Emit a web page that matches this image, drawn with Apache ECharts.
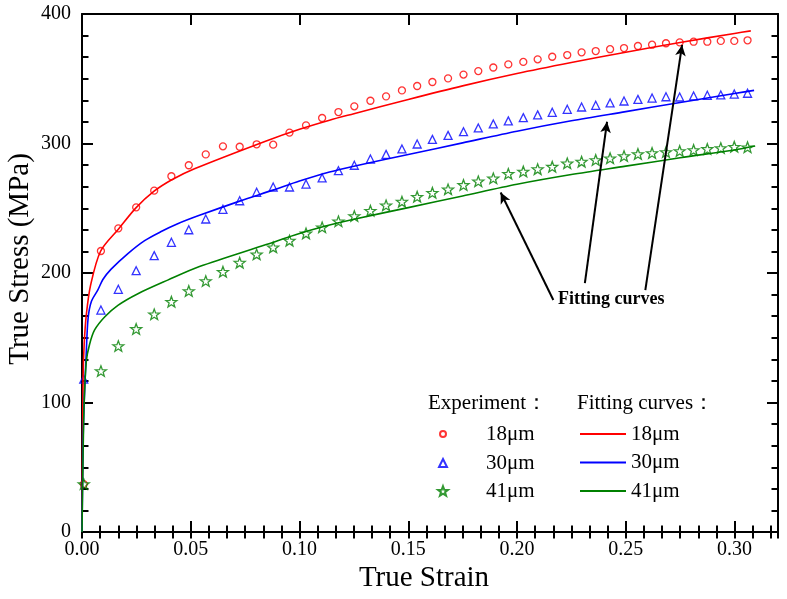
<!DOCTYPE html>
<html>
<head>
<meta charset="utf-8">
<script src="https://cdn.jsdelivr.net/npm/echarts@6/dist/echarts.min.js"></script>
<style>html,body{margin:0;padding:0;background:#fff;}#chart{width:787px;height:599px;}</style>
</head>
<body>
<div id="chart"></div>
<script>
// ---- data ----
const strainExp = [0.0008, 0.0087, 0.0167, 0.0249, 0.0332, 0.0411, 0.0491, 0.0569, 0.0648, 0.0725, 0.0803, 0.0879, 0.0954, 0.1030, 0.1104, 0.1179, 0.1252, 0.1326, 0.1398, 0.1471, 0.1541, 0.1611, 0.1683, 0.1754, 0.1822, 0.1891, 0.1960, 0.2029, 0.2095, 0.2162, 0.2231, 0.2297, 0.2362, 0.2428, 0.2492, 0.2556, 0.2621, 0.2685, 0.2748, 0.2812, 0.2875, 0.2937, 0.2999, 0.3060];
const stressExp18 = [37, 217, 234.5, 250.7, 263.6, 274.7, 283.2, 291.6, 297.8, 297.5, 299.4, 299.1, 308.4, 314, 319.7, 324.3, 328.7, 333, 336.4, 341, 344.4, 347.5, 350.3, 353.2, 355.9, 358.7, 361.1, 363, 365, 367, 368.3, 370.4, 371.4, 372.8, 373.7, 375.3, 376.3, 377.4, 378.1, 378.6, 378.6, 379.2, 379.2, 379.7];
const stressExp30 = [118, 171.4, 187.4, 201.8, 213.4, 223.7, 233.4, 241.7, 249.2, 255.8, 262.3, 266.4, 266.4, 268.7, 273.4, 279, 283.2, 288, 291.6, 295.8, 299.6, 303.2, 306.3, 309.1, 312, 315.1, 317.5, 320, 322.1, 324.1, 326.4, 328.2, 329.5, 331.3, 332.8, 334.1, 335.1, 336.1, 335.9, 336.7, 337.2, 337.5, 338.2, 338.8];
const stressExp41 = [37, 124.3, 143.6, 156.8, 168.1, 177.8, 186.1, 193.8, 201, 208, 214.4, 219.8, 225, 230.6, 235.3, 239.9, 244, 248.1, 252.3, 255.1, 258.9, 262, 264.6, 268, 270.8, 273.1, 276.6, 278.4, 280.2, 282.1, 284.7, 286, 287.3, 288.6, 290.3, 291.9, 292.7, 293.4, 294.2, 295, 295.8, 296.5, 297.5, 297.1];

const fitStrain18 = [0, 0.0005, 0.001, 0.002, 0.004, 0.0086, 0.0168, 0.0249, 0.033, 0.0413, 0.0517, 0.0847, 0.1, 0.1138, 0.125, 0.15, 0.175, 0.2, 0.225, 0.25, 0.275, 0.3, 0.3075];
const fitStress18 = [0, 120, 145, 168, 191, 217, 234, 250.5, 263, 272, 280.5, 302, 311, 318, 323, 334, 344.5, 354, 362.5, 370.5, 378, 385, 387];
const fitStrain30 = [0, 0.0005, 0.001, 0.002, 0.0028, 0.0043, 0.0073, 0.0096, 0.0134, 0.0211, 0.0288, 0.0364, 0.044, 0.054, 0.0725, 0.0878, 0.1, 0.1138, 0.125, 0.15, 0.175, 0.2, 0.225, 0.25, 0.275, 0.3, 0.309];
const fitStress30 = [0, 70, 100, 140, 165, 178, 187, 195, 203, 215, 225, 232, 238, 244.5, 255.5, 264, 271, 278, 282.5, 291.5, 300.5, 309.5, 317.5, 324.6, 331.7, 338.6, 341];
const fitStrain41 = [0, 0.0005, 0.001, 0.002, 0.0035, 0.0058, 0.0104, 0.0165, 0.0257, 0.0394, 0.054, 0.0847, 0.1, 0.1138, 0.125, 0.15, 0.175, 0.2, 0.225, 0.25, 0.275, 0.3, 0.3095];
const fitStress41 = [0, 60, 100, 132, 145, 156, 166, 175, 184, 194.5, 205, 222, 230.5, 237, 241.5, 250.5, 259.5, 268.5, 276, 282.5, 289, 295, 298];

const grainSizes = ['18μm', '30μm', '41μm'];
const xTickValues = [0, 0.05, 0.10, 0.15, 0.20, 0.25, 0.30];
const yTickValues = [0, 100, 200, 300, 400];
// annotation arrows: [tail strain, tail stress, head strain, head stress]
const arrows = [
  [0.2167, 179.2, 0.1925, 262.2],
  [0.2312, 192.1, 0.2414, 316.8],
  [0.2590, 186.7, 0.2759, 376.1]
];
const annotationText = 'Fitting curves';

// ---- chart ----
const FONT = 'Liberation Serif, Times New Roman, serif';
const starPath = 'path://M50,0 L62,33 L97.5,34.5 L69.5,56.5 L79.4,90.5 L50,71 L20.6,90.5 L30.5,56.5 L2.5,34.5 L38,33 Z';
const colors = ['#ff0000', '#0000ff', '#008000'];
const expSymbols = ['circle', 'triangle', starPath];
const expSizes = [7, 8, 11];
const legendSizes = [6, 8, 10];
const legendRowTops = [418, 447, 475];
const expData = [stressExp18, stressExp30, stressExp41];
const fitX = [fitStrain18, fitStrain30, fitStrain41];
const fitY = [fitStress18, fitStress30, fitStress41];

const zip = (xs, ys) => xs.map((x, i) => [x, ys[i]]);

const series = [];
grainSizes.forEach((g, i) => {
  series.push({
    name: 'Experiment ' + g,
    type: 'scatter',
    xAxisIndex: 0, yAxisIndex: 0,
    symbol: expSymbols[i],
    symbolSize: expSizes[i],
    symbolKeepAspect: true,
    itemStyle: { color: 'rgba(255,255,255,0)', borderColor: colors[i], borderWidth: 1.3 },
    data: zip(strainExp, expData[i]),
    z: 3
  });
});
grainSizes.forEach((g, i) => {
  series.push({
    name: 'Fitting ' + g,
    type: 'line',
    xAxisIndex: 0, yAxisIndex: 0,
    symbol: 'none', showSymbol: false,
    smooth: 0.3,
    lineStyle: { color: colors[i], width: 1.6 },
    itemStyle: { color: colors[i] },
    data: zip(fitX[i], fitY[i]),
    z: 4
  });
});
series.push({
  name: 'annotation',
  type: 'line',
  xAxisIndex: 0, yAxisIndex: 0,
  data: [],
  silent: true,
  markLine: {
    silent: true,
    symbol: ['none', 'arrow'],
    symbolSize: [8, 11],
    label: { show: false },
    emphasis: { disabled: true },
    lineStyle: { color: '#000', width: 2, type: 'solid' },
    data: arrows.map(a => [{ coord: [a[0], a[1]] }, { coord: [a[2], a[3]] }])
  },
  z: 5
});

const majorTick = { show: true, inside: true, length: 11, lineStyle: { color: '#000', width: 2 } };
const minorTickStyle = { show: true, inside: true, length: 6.5, lineStyle: { color: '#000', width: 2 } };
const axisLine = { show: true, onZero: false, lineStyle: { color: '#000', width: 2 } };

const xBase = { type: 'value', min: 0, max: 0.32, splitLine: { show: false } };
const yBase = { type: 'value', min: 0, max: 400, interval: 100, splitLine: { show: false } };

const legendText = { fontFamily: FONT, fontSize: 21, lineHeight: 22, color: '#000' };

const legends = grainSizes.map((g, i) => {
  const w = legendSizes[i];
  const left = 437 - w / 2;
  const pad = 480 - (left + w + 5);
  return {
    data: [{ name: 'Experiment ' + g, icon: expSymbols[i] }],
    orient: 'vertical', left: left, top: legendRowTops[i],
    itemWidth: w, itemHeight: w, itemGap: 0,
    selectedMode: false,
    formatter: n => '{t|' + n.replace('Experiment ', '') + '}',
    textStyle: Object.assign({}, legendText, { rich: { t: Object.assign({}, legendText, { padding: [0, 0, 0, pad] }) } })
  };
});
legends.push({
  data: grainSizes.map(g => ({ name: 'Fitting ' + g, icon: 'rect' })),
  orient: 'vertical', left: 575, top: legendRowTops[0],
  itemWidth: 46, itemHeight: 2, itemGap: 6.5,
  selectedMode: false,
  formatter: n => n.replace('Fitting ', ''),
  textStyle: legendText
});

const option = {
  animation: false,
  backgroundColor: '#fff',
  textStyle: { fontFamily: FONT },
  grid: { left: 82, right: 9, top: 14, bottom: 67, containLabel: false, outerBoundsMode: 'none' },
  xAxis: [
    Object.assign({}, xBase, {
      position: 'bottom', interval: 0.05,
      name: 'True Strain', nameLocation: 'middle', nameGap: 32,
      nameMoveOverlap: false,
      nameTextStyle: { fontFamily: FONT, fontSize: 29, color: '#000', padding: [0, 12, 0, 0] },
      axisLine: axisLine, axisTick: majorTick,
      axisLabel: {
        show: true, margin: 8, color: '#000', fontFamily: FONT, fontSize: 20,
        formatter: v => (xTickValues.some(t => Math.abs(t - v) < 1e-6) ? v.toFixed(2) : '')
      }
    }),
    Object.assign({}, xBase, {
      position: 'top', interval: 0.05,
      axisLine: axisLine, axisTick: majorTick, axisLabel: { show: false }
    }),
    Object.assign({}, xBase, {
      position: 'bottom', interval: 0.05 / 6,
      axisLine: { show: false }, axisTick: minorTickStyle, axisLabel: { show: false }
    }),
    Object.assign({}, xBase, {
      position: 'top', interval: 0.05 / 6,
      axisLine: { show: false }, axisTick: minorTickStyle, axisLabel: { show: false }
    })
  ],
  yAxis: [
    Object.assign({}, yBase, {
      position: 'left',
      name: 'True Stress (MPa)', nameLocation: 'middle', nameGap: 47,
      nameMoveOverlap: false,
      nameTextStyle: { fontFamily: FONT, fontSize: 29, color: '#000', padding: [0, 0, 0, 28] },
      axisLine: axisLine, axisTick: majorTick,
      minorTick: Object.assign({}, minorTickStyle, { splitNumber: 6 }),
      axisLabel: {
        show: true, margin: 11, color: '#000', fontFamily: FONT, fontSize: 20,
        formatter: v => (yTickValues.indexOf(v) >= 0 ? String(v) : '')
      }
    }),
    Object.assign({}, yBase, {
      position: 'right',
      axisLine: axisLine, axisTick: majorTick,
      minorTick: Object.assign({}, minorTickStyle, { splitNumber: 6 }),
      axisLabel: { show: false }
    })
  ],
  legend: legends,
  graphic: [
    { type: 'text', left: 428, top: 393, style: { text: 'Experiment：', font: '21px ' + FONT, fill: '#000' } },
    { type: 'text', left: 577, top: 393, style: { text: 'Fitting curves：', font: '21px ' + FONT, fill: '#000' } },
    { type: 'text', left: 558, top: 290, style: { text: annotationText, font: 'bold 18px ' + FONT, fill: '#000' } }
  ],
  series: series
};

const chart = echarts.init(document.getElementById('chart'), null, { renderer: 'canvas' });
chart.setOption(option);
</script>
</body>
</html>
